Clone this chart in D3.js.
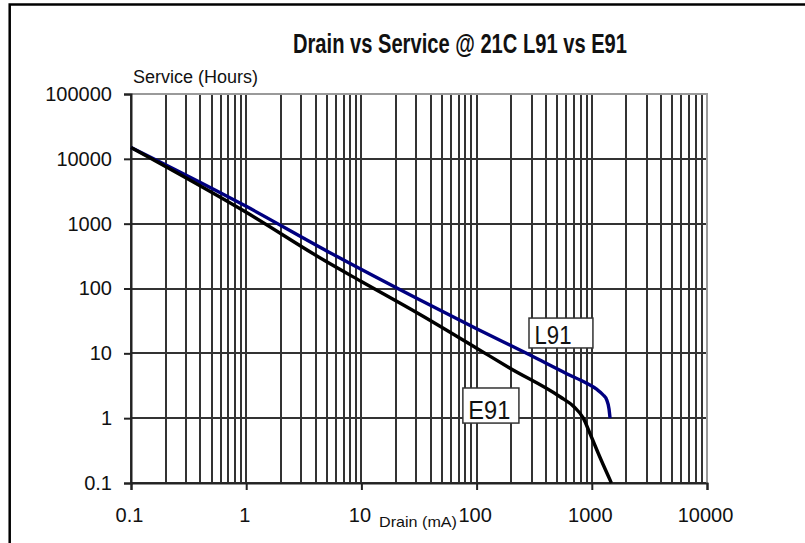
<!DOCTYPE html>
<html>
<head>
<meta charset="utf-8">
<script src="https://cdn.jsdelivr.net/npm/d3@7"></script>
<style>
  html, body { margin: 0; padding: 0; background: #fff; }
  svg { display: block; }
  text { font-family: "Liberation Sans", Arial, sans-serif; fill: #111; }
</style>
</head>
<body>
<svg id="chart" width="805" height="543"></svg>
<script>
// ---- data ----
const title = "Drain vs Service @ 21C L91 vs E91";
const yAxisTitle = "Service (Hours)";
const xAxisTitle = "Drain (mA)";
const drainTicks = [0.1, 1, 10, 100, 1000, 10000];
const drainTickLabels = ["0.1", "1", "10", "100", "1000", "10000"];
const hourTicks = [0.1, 1, 10, 100, 1000, 10000, 100000];
const hourTickLabels = ["0.1", "1", "10", "100", "1000", "10000", "100000"];

const l91Drain = [0.1, 1, 5, 32, 100, 291, 600, 903, 1100, 1250, 1350, 1410, 1440];
const l91Hours = [15000, 1850, 380, 67, 24, 9.4, 4.9, 3.45, 2.8, 2.3, 1.9, 1.4, 1.0];
const e91Drain = [0.1, 1, 5, 10, 32, 100, 195, 530, 700, 844, 964, 1200, 1480];
const e91Hours = [15000, 1500, 258, 128, 40, 12, 5.9, 2.14, 1.5, 1.0, 0.58, 0.23, 0.1];

const seriesNames = ["L91", "E91"];

// ---- layout ----
const svg = d3.select("#chart");
const x = d3.scaleLog().domain([0.1, 10000]).range([131, 707]);
const y = d3.scaleLog().domain([0.1, 100000]).range([483, 94]);

// outer chart border
svg.append("rect").attr("x", 9.7).attr("y", 4.5).attr("width", 1200).attr("height", 1200)
  .attr("fill", "none").attr("stroke", "#000").attr("stroke-width", 2.5);

// title
svg.append("text").attr("x", 293).attr("y", 53).attr("font-size", 27).attr("font-weight", "bold")
  .attr("textLength", 334).attr("lengthAdjust", "spacingAndGlyphs").text(title);

// vertical grid (all log ticks)
const xGridVals = x.ticks();
svg.append("g").selectAll("line").data(xGridVals).join("line")
  .attr("x1", d => Math.round(x(d))).attr("x2", d => Math.round(x(d)))
  .attr("y1", y.range()[1]).attr("y2", y.range()[0])
  .attr("stroke", "#333").attr("stroke-width", 2);

// horizontal grid (decades)
svg.append("g").selectAll("line").data(hourTicks).join("line")
  .attr("x1", x.range()[0]).attr("x2", x.range()[1])
  .attr("y1", d => Math.round(y(d))).attr("y2", d => Math.round(y(d)))
  .attr("stroke", "#333").attr("stroke-width", 2);

// plot area top/right border (gray)
svg.append("path")
  .attr("d", `M${x.range()[0]},${y.range()[1]}H${x.range()[1]}V${y.range()[0]}`)
  .attr("fill", "none").attr("stroke", "#9a9a9a").attr("stroke-width", 2);

// axes
const xAxis = d3.axisBottom(x).tickValues(drainTicks).tickSize(7).tickPadding(18)
  .tickFormat((d, i) => drainTickLabels[i]);
const gx = svg.append("g").attr("transform", `translate(0,${y.range()[0]})`).call(xAxis);
gx.select(".domain").attr("stroke", "#222").attr("stroke-width", 2);
gx.selectAll(".tick line").attr("stroke", "#222").attr("stroke-width", 2);
gx.selectAll(".tick text").attr("font-size", 20).attr("font-family", "Liberation Sans, Arial, sans-serif")
  .attr("fill", "#111").attr("dx", -2);

const yAxis = d3.axisLeft(y).tickValues(hourTicks).tickSize(7).tickPadding(12)
  .tickFormat((d, i) => hourTickLabels[i]);
const gy = svg.append("g").attr("transform", `translate(${x.range()[0]},0)`).call(yAxis);
gy.select(".domain").attr("stroke", "#222").attr("stroke-width", 2);
gy.selectAll(".tick line").attr("stroke", "#222").attr("stroke-width", 2);
gy.selectAll(".tick text").attr("font-size", 20).attr("font-family", "Liberation Sans, Arial, sans-serif")
  .attr("fill", "#111");

// axis titles
svg.append("text").attr("x", 133).attr("y", 83).attr("font-size", 18).text(yAxisTitle);
svg.append("text").attr("x", 379).attr("y", 527).attr("font-size", 15)
  .attr("textLength", 78).attr("lengthAdjust", "spacingAndGlyphs").text(xAxisTitle);

// lines
const line = d3.line().x(d => x(d[0])).y(d => y(d[1])).curve(d3.curveMonotoneX);
const l91 = l91Drain.map((d, i) => [d, l91Hours[i]]);
const e91 = e91Drain.map((d, i) => [d, e91Hours[i]]);
svg.append("path").datum(l91).attr("d", line).attr("fill", "none")
  .attr("stroke", "#000080").attr("stroke-width", 3.4).attr("stroke-linejoin", "round");
svg.append("path").datum(e91).attr("d", line).attr("fill", "none")
  .attr("stroke", "#000").attr("stroke-width", 3.4).attr("stroke-linejoin", "round");

// data labels (boxes anchored in data space)
const labelBoxes = [
  { name: seriesNames[0], x0: 285, x1: 1023, y0: 35, y1: 12.1, textW: 37 },
  { name: seriesNames[1], x0: 76, x1: 233, y0: 2.92, y1: 0.84, textW: 42 }
];
labelBoxes.forEach(b => {
  const bx = x(b.x0), bw = x(b.x1) - x(b.x0), by = y(b.y0), bh = y(b.y1) - y(b.y0);
  svg.append("rect").attr("x", bx).attr("y", by).attr("width", bw).attr("height", bh)
    .attr("fill", "#fff").attr("stroke", "#333").attr("stroke-width", 1.5);
  svg.append("text").attr("x", bx + 5.5).attr("y", by + bh - 4).attr("font-size", 26)
    .attr("textLength", b.textW).attr("lengthAdjust", "spacingAndGlyphs").text(b.name);
});
</script>
</body>
</html>
